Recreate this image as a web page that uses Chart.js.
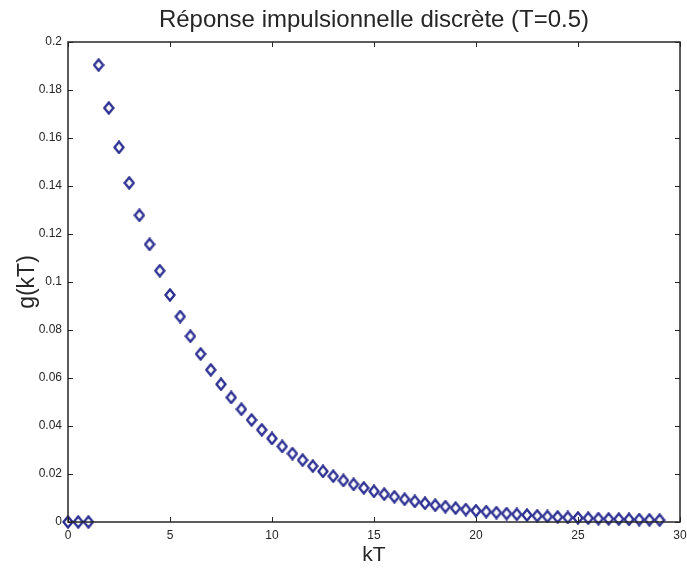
<!DOCTYPE html>
<html>
<head>
<meta charset="utf-8">
<script src="https://cdn.jsdelivr.net/npm/chart.js@4/dist/chart.umd.min.js"></script>
<style>
  html, body { margin: 0; padding: 0; background: #fff; }
  #wrap { width: 687px; height: 570px; }
</style>
</head>
<body>
<div id="wrap"><canvas id="chart" width="687" height="570"></canvas></div>
<script>
// sample instants kT (T = 0.5)
const kT = [0, 0.5, 1, 1.5, 2, 2.5, 3, 3.5, 4, 4.5, 5, 5.5, 6, 6.5, 7, 7.5, 8, 8.5, 9, 9.5,
    10, 10.5, 11, 11.5, 12, 12.5, 13, 13.5, 14, 14.5, 15, 15.5, 16, 16.5, 17, 17.5, 18, 18.5, 19, 19.5,
    20, 20.5, 21, 21.5, 22, 22.5, 23, 23.5, 24, 24.5, 25, 25.5, 26, 26.5, 27, 27.5, 28, 28.5, 29];

// g(kT)
const gkT = [0, 0, 0, 0.1904, 0.1725, 0.1561, 0.1413, 0.1278, 0.1157, 0.1047, 0.0946, 0.0856, 0.0774, 0.0700,
    0.0634, 0.0574, 0.0519, 0.0470, 0.0425, 0.0384, 0.0348, 0.0315, 0.0285, 0.0258, 0.0233, 0.0211,
    0.0191, 0.0173, 0.0157, 0.0142, 0.0128, 0.0116, 0.0105, 0.0095, 0.0086, 0.0078, 0.0070, 0.0064,
    0.0058, 0.0052, 0.0047, 0.0043, 0.0039, 0.0035, 0.0032, 0.0029, 0.0026, 0.0023, 0.0021, 0.0019,
    0.0017, 0.0016, 0.0014, 0.0013, 0.0012, 0.0011, 0.0010, 0.0009, 0.0008];

const xTicks = [0, 5, 10, 15, 20, 25, 30];
const yTicks = [0, 0.02, 0.04, 0.06, 0.08, 0.1, 0.12, 0.14, 0.16, 0.18, 0.2];

const ink = '#262626';
const markerColor = '#2e3192';
const fontFamily = '"Liberation Sans", Arial, Helvetica, sans-serif';

// MATLAB diamond marker: a bit taller than wide
function makeDiamond() {
    const c = document.createElement('canvas');
    c.width = 12; c.height = 14;
    const g = c.getContext('2d');
    g.strokeStyle = markerColor;
    g.lineWidth = 2.4;
    g.beginPath();
    g.moveTo(6, 1.5); g.lineTo(10.5, 7); g.lineTo(6, 12.5); g.lineTo(1.5, 7);
    g.closePath();
    g.stroke();
    return c;
}
const diamond = makeDiamond();

// box around the axes plus inward tick marks on all four sides (MATLAB look)
const boxPlugin = {
    id: 'matlabBox',
    afterDraw(chart) {
        const { ctx, chartArea: a, scales } = chart;
        ctx.save();
        ctx.strokeStyle = ink;
        ctx.lineWidth = 1;
        const len = 5;
        ctx.beginPath();
        xTicks.forEach(v => {
            const px = Math.round(scales.x.getPixelForValue(v)) + 0.5;
            ctx.moveTo(px, a.bottom); ctx.lineTo(px, a.bottom - len);
            ctx.moveTo(px, a.top); ctx.lineTo(px, a.top + len);
        });
        yTicks.forEach(v => {
            const py = Math.round(scales.y.getPixelForValue(v)) + 0.5;
            ctx.moveTo(a.left, py); ctx.lineTo(a.left + len, py);
            ctx.moveTo(a.right, py); ctx.lineTo(a.right - len, py);
        });
        ctx.stroke();
        ctx.lineWidth = 1.5;
        ctx.strokeRect(a.left, a.top, a.right - a.left, a.bottom - a.top);
        ctx.restore();
    }
};

new Chart(document.getElementById('chart'), {
    type: 'scatter',
    data: {
        datasets: [{
            data: kT.map((x, i) => ({ x: x, y: gkT[i] })),
            pointStyle: diamond,
            pointRadius: 6,
            showLine: false,
            clip: false
        }]
    },
    options: {
        responsive: false,
        animation: false,
        layout: { padding: { left: 0, right: 7, top: 0, bottom: 0 } },
        plugins: {
            legend: { display: false },
            tooltip: { enabled: false },
            title: {
                display: true,
                fullSize: false,
                text: 'Réponse impulsionnelle discrète (T=0.5)',
                color: ink,
                font: { family: fontFamily, size: 24, weight: 'normal' },
                padding: { top: 6, bottom: 7.2 }
            }
        },
        scales: {
            x: {
                type: 'linear',
                min: 0, max: 30,
                afterBuildTicks: s => { s.ticks = xTicks.map(v => ({ value: v })); },
                afterFit: s => { s.height = 48; s.paddingLeft = 0; s.paddingRight = 0; },
                grid: { display: false, drawTicks: false },
                border: { display: false },
                ticks: {
                    color: ink,
                    padding: 6,
                    maxRotation: 0,
                    font: { family: fontFamily, size: 12 },
                    callback: v => String(v)
                },
                title: {
                    display: true,
                    text: 'kT',
                    color: ink,
                    font: { family: fontFamily, size: 21 },
                    padding: { top: 0, bottom: 2 }
                }
            },
            y: {
                type: 'linear',
                min: 0, max: 0.2,
                afterBuildTicks: s => { s.ticks = yTicks.map(v => ({ value: v })); },
                afterFit: s => { s.width = 68; s.paddingTop = 0; s.paddingBottom = 0; },
                grid: { display: false, drawTicks: false },
                border: { display: false },
                ticks: {
                    color: ink,
                    padding: 6,
                    font: { family: fontFamily, size: 12 },
                    callback: v => String(parseFloat(v.toFixed(2)))
                },
                title: {
                    display: true,
                    text: 'g(kT)',
                    color: ink,
                    font: { family: fontFamily, size: 23 },
                    padding: { top: 14, bottom: 0 }
                }
            }
        }
    },
    plugins: [boxPlugin]
});
</script>
</body>
</html>
